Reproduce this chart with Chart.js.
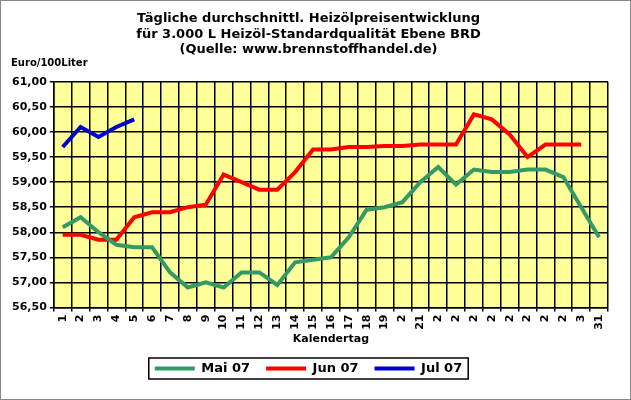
<!DOCTYPE html>
<html><head><meta charset="utf-8">
<script src="https://cdn.jsdelivr.net/npm/chart.js@4"></script>
<style>
html,body{margin:0;padding:0;background:#fff;}
#wrap{position:relative;width:629px;height:398px;border:1px solid #888;}
</style></head>
<body><div id="wrap"><canvas id="c" width="629" height="398"></canvas></div>
<script>
const days = ['1','2','3','4','5','6','7','8','9','10','11','12','13','14','15','16','17','18','19','2','21','2','2','2','2','2','2','2','2','3','31'];
const mai07 = [58.1,58.3,58.0,57.75,57.7,57.7,57.2,56.9,57.0,56.9,57.2,57.2,56.95,57.4,57.45,57.5,57.9,58.45,58.5,58.6,59.0,59.3,58.95,59.25,59.2,59.2,59.25,59.25,59.1,58.5,57.9];
const jun07 = [57.95,57.95,57.85,57.85,58.3,58.4,58.4,58.5,58.55,59.15,59.0,58.85,58.85,59.2,59.65,59.65,59.7,59.7,59.72,59.72,59.75,59.75,59.75,60.35,60.25,59.95,59.5,59.75,59.75,59.75];
const jul07 = [59.7,60.1,59.9,60.1,60.25];

const yellowArea = {
    id: 'yellowArea',
    beforeDraw(chart) {
        const a = chart.chartArea, ctx = chart.ctx;
        ctx.save();
        ctx.fillStyle = '#ffff99';
        ctx.fillRect(a.left, a.top, a.right - a.left, a.bottom - a.top);
        ctx.fillStyle = '#000';
        ctx.font = 'bold 10px "DejaVu Sans"';
        ctx.fillText('Euro/100Liter', 10, 62);
        ctx.restore();
    },
    afterDraw(chart) {
        // border around legend items
        const boxes = chart.legend.legendHitBoxes;
        if (!boxes || !boxes.length) return;
        const l = boxes[0].left - 6, r = boxes[boxes.length - 1].left + boxes[boxes.length - 1].width + 6;
        const t = boxes[0].top - 4, b = boxes[0].top + boxes[0].height + 4;
        const ctx = chart.ctx;
        ctx.save();
        ctx.strokeStyle = '#000';
        ctx.lineWidth = 1.5;
        ctx.strokeRect(l, t, r - l, b - t);
        ctx.restore();
    }
};

new Chart(document.getElementById('c'), {
    type: 'line',
    data: {
        labels: days,
        datasets: [
            { label: 'Mai 07', data: mai07, borderColor: '#339966', borderWidth: 4, pointRadius: 0, tension: 0 },
            { label: 'Jun 07', data: jun07, borderColor: '#ff0000', borderWidth: 4, pointRadius: 0, tension: 0 },
            { label: 'Jul 07', data: jul07, borderColor: '#0000cc', borderWidth: 4, pointRadius: 0, tension: 0 }
        ]
    },
    options: {
        responsive: false,
        animation: false,
        layout: { padding: { left: 8, right: 22, top: 0, bottom: 14 } },
        scales: {
            x: {
                offset: true,
                grid: { offset: true, color: '#000', lineWidth: 1.5, drawTicks: true, tickLength: 4 },
                border: { color: '#000', width: 1.5 },
                ticks: { color: '#000', font: { family: 'DejaVu Sans', weight: 'bold', size: 11 }, maxRotation: 90, minRotation: 90, autoSkip: false },
                title: { display: true, text: 'Kalendertag', color: '#000', font: { family: 'DejaVu Sans', weight: 'bold', size: 11 }, padding: 0 }
            },
            y: {
                min: 56.5, max: 61,
                grid: { color: '#000', lineWidth: 1.5, tickLength: 4 },
                border: { color: '#000', width: 1.5 },
                ticks: { stepSize: 0.5, color: '#000', font: { family: 'DejaVu Sans', weight: 'bold', size: 11 },
                    callback: v => v.toFixed(2).replace('.', ',') }
            }
        },
        plugins: {
            title: {
                display: true,
                text: ['Tägliche durchschnittl. Heizölpreisentwicklung', 'für 3.000 L Heizöl-Standardqualität Ebene BRD', '(Quelle: www.brennstoffhandel.de)'],
                color: '#000', font: { family: 'DejaVu Sans', weight: 'bold', size: 13 }, padding: { top: 10, bottom: 24 }, lineHeight: 1.25
            },
            legend: {
                position: 'bottom',
                labels: { color: '#000', boxWidth: 40, boxHeight: 0, padding: 16, font: { family: 'DejaVu Sans', weight: 'bold', size: 13 } }
            }
        }
    },
    plugins: [yellowArea]
});
</script></body></html>
